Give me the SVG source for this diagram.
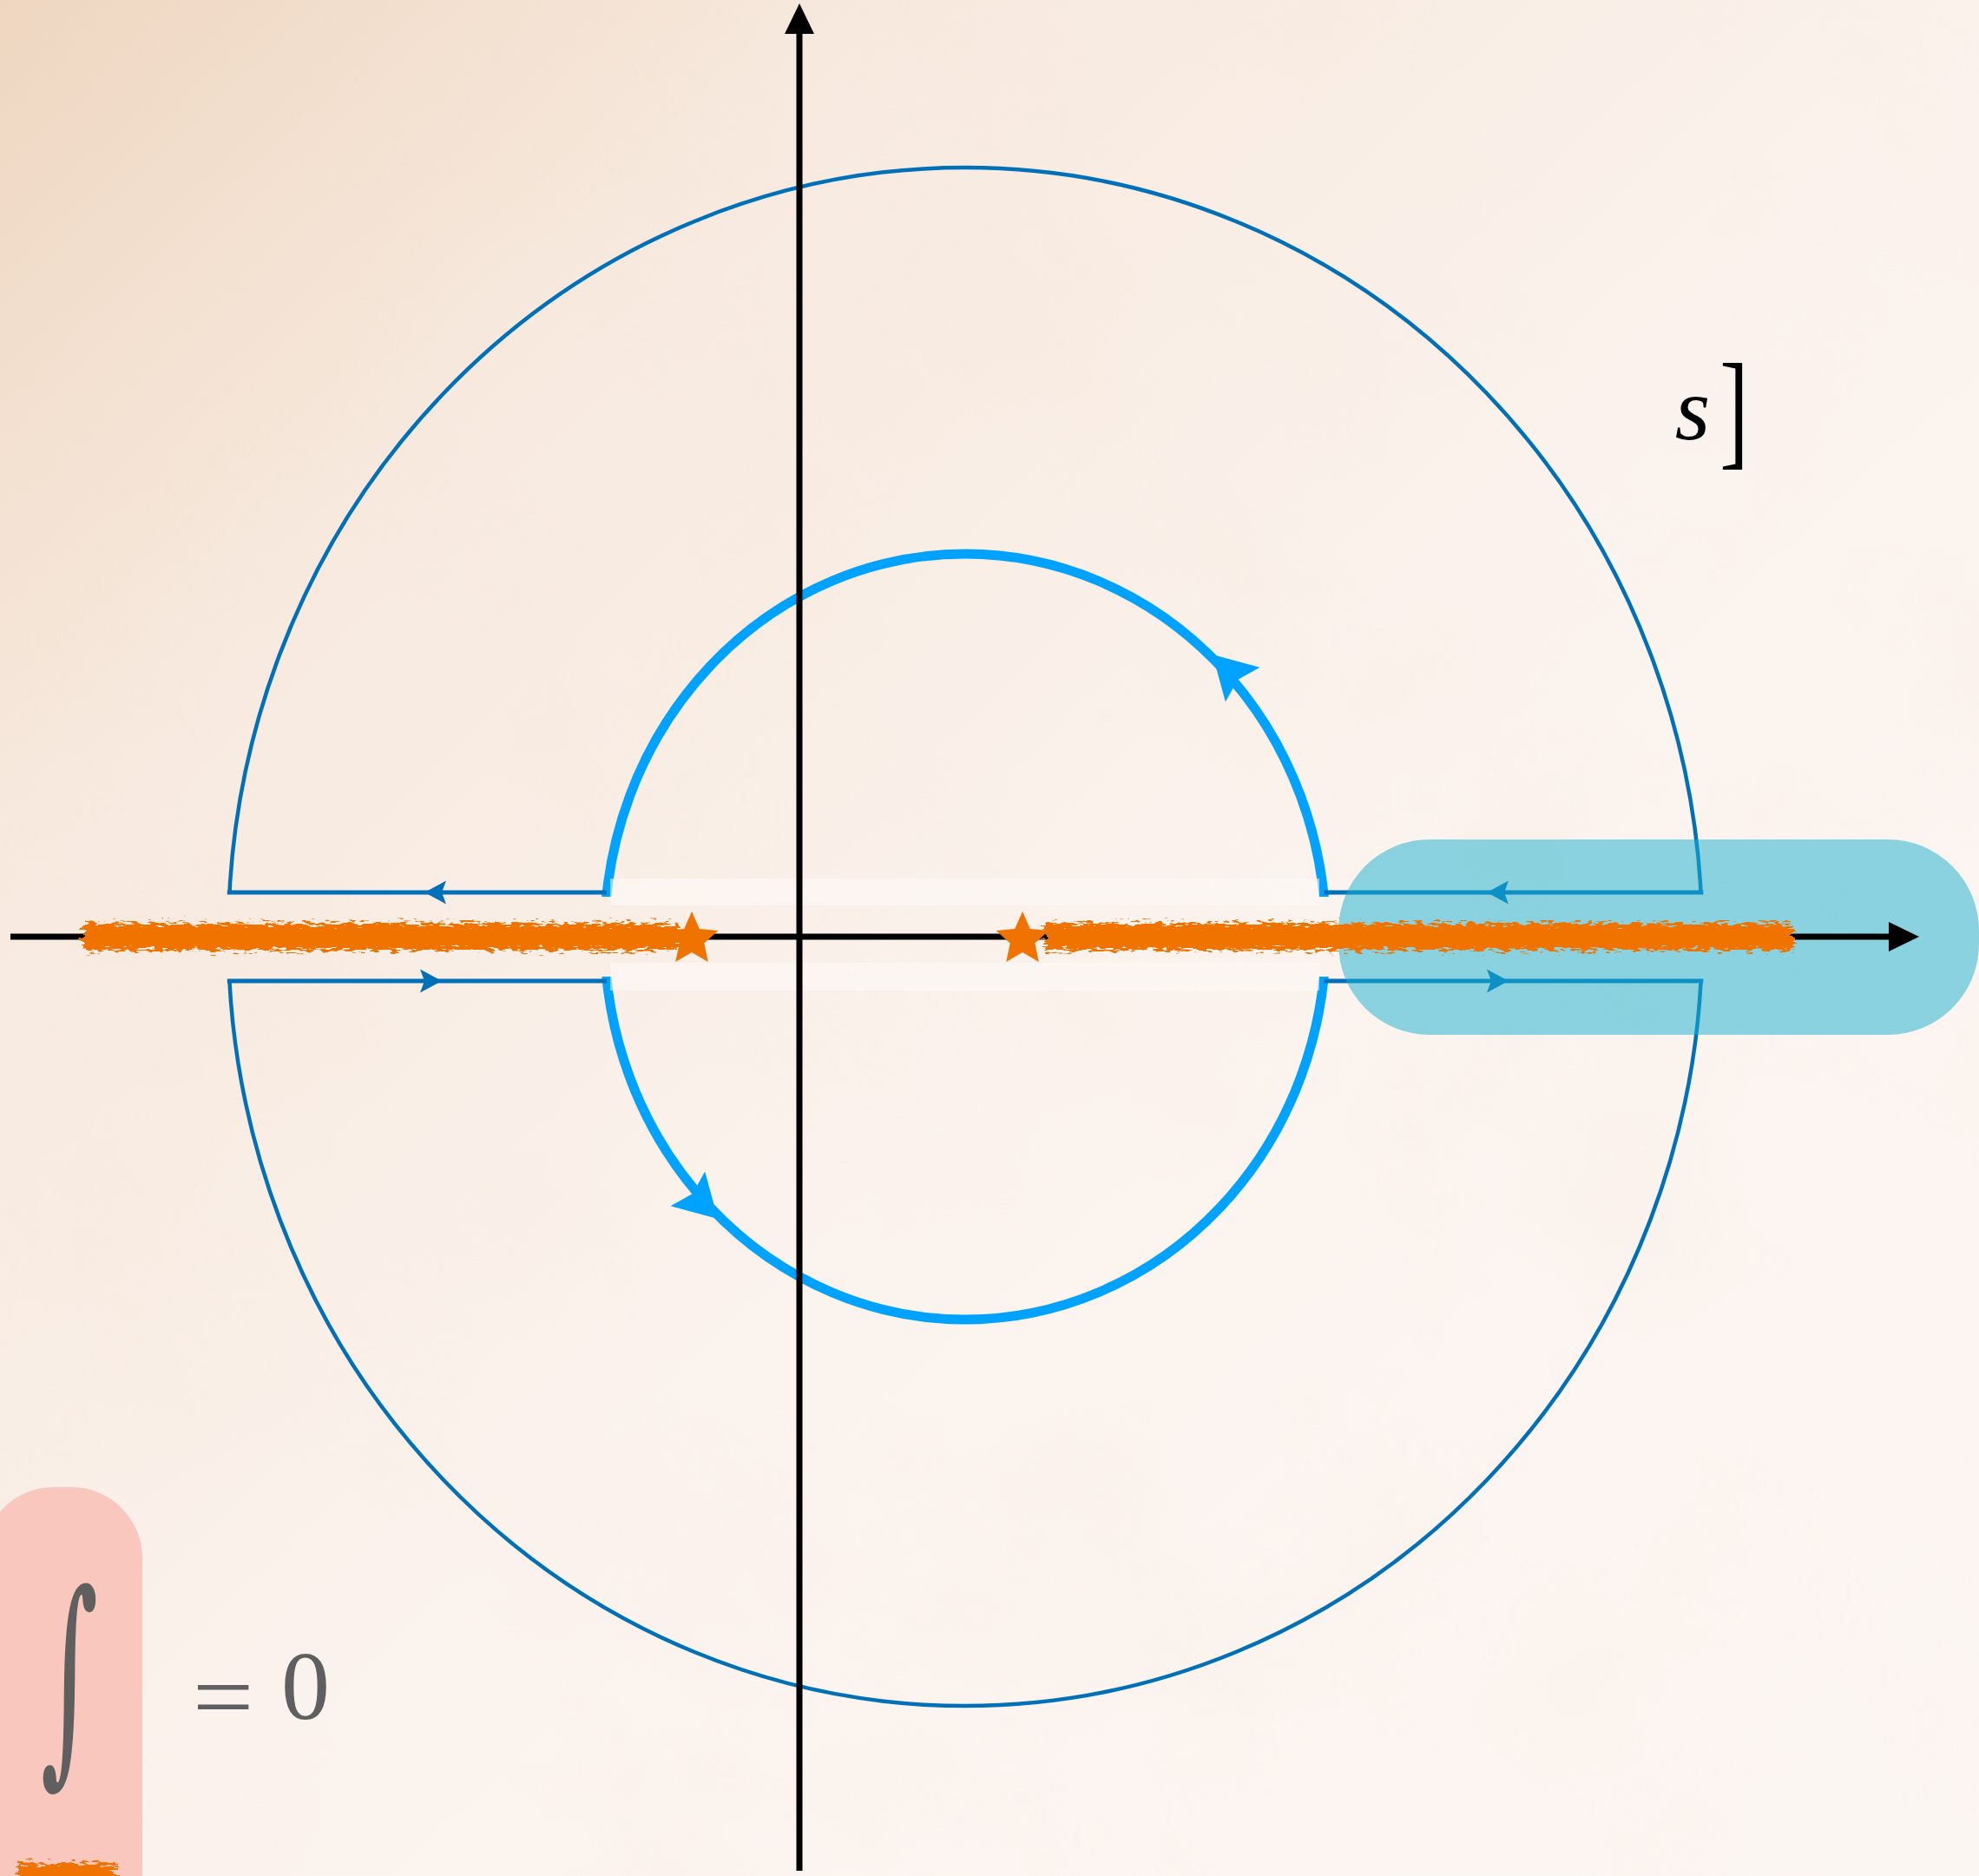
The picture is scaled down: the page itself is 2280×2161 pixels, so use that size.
<svg xmlns="http://www.w3.org/2000/svg" xmlns:xlink="http://www.w3.org/1999/xlink" width="2280" height="2161" viewBox="0 0 2280 2161">
<defs>
<style>
.outer{fill:none;stroke:#0070b8;stroke-width:4.5}
.cut{fill:none;stroke:#0070b8;stroke-width:5}
.inner{fill:none;stroke:#00a2ff;stroke-width:11}
.axis{fill:none;stroke:#000;stroke-width:7}
.band{fill:none;stroke:#f07300;stroke-width:31}
.star{fill:#f07300}
.mask{fill:#fdfaf7;opacity:0.55}
.math{font-family:"Liberation Serif","Times New Roman",serif;fill:#5f5f5f}
</style>
<linearGradient id="bg" x1="0" y1="0" x2="1" y2="1">
<stop offset="0" stop-color="#eed6c0"/>
<stop offset="0.22" stop-color="#f7e9de"/>
<stop offset="0.55" stop-color="#fbf3ee"/>
<stop offset="1" stop-color="#fcf6f3"/>
</linearGradient>
<filter id="paper" filterUnits="userSpaceOnUse" x="0" y="0" width="2280" height="2161">
<feTurbulence type="fractalNoise" baseFrequency="0.003" numOctaves="4" seed="7"/>
<feColorMatrix type="matrix" values="0 0 0 0 0.88  0 0 0 0 0.74  0 0 0 0 0.6  1.3 0 0 0 -0.6"/>
</filter>
<filter id="rough" filterUnits="userSpaceOnUse" x="0" y="1000" width="2280" height="1161">
<feTurbulence type="fractalNoise" baseFrequency="0.1 0.35" numOctaves="2" seed="3" result="n"/>
<feDisplacementMap in="SourceGraphic" in2="n" scale="20" xChannelSelector="R" yChannelSelector="G"/>
</filter>
<clipPath id="clipInner"><rect x="0" y="0" width="2280" height="1033"/><rect x="0" y="1125" width="2280" height="1036"/></clipPath>
<clipPath id="clipOuter"><rect x="0" y="0" width="2280" height="1028"/><rect x="0" y="1130" width="2280" height="1031"/></clipPath>
<path id="ah" d="M0,0 L-25,-13.5 L-20,0 L-25,13.5 Z" fill="#0070b8"/>
<path id="ahb" d="M0,0 L-49,-28 L-41,0 L-49,28 Z" fill="#00a2ff"/>
<path id="ahk" d="M0,0 L-35,-17 L-35,17 Z" fill="#000"/>
<path id="star" d="M0,-32 L8.8,-12.1 L30.4,-9.9 L14.3,4.6 L18.8,25.9 L0,15 L-18.8,25.9 L-14.3,4.6 L-30.4,-9.9 L-8.8,-12.1 Z"/>
</defs>

<g id="background">
<rect x="0" y="0" width="2280" height="2161" fill="url(#bg)"/>
<rect x="0" y="0" width="2280" height="2161" filter="url(#paper)" opacity="0.22"/>
</g>

<g id="pink-highlight">
<rect x="-20" y="1713" width="184" height="600" rx="82" ry="82" fill="#f8c3ba" opacity="0.92"/>
</g>

<g id="contour">
<ellipse class="outer" clip-path="url(#clipOuter)" cx="1112" cy="1079" rx="849" ry="886"/>
<ellipse class="inner" clip-path="url(#clipInner)" cx="1112" cy="1079" rx="415.5" ry="441"/>
<path class="cut" d="M261.8,1028 H699 M261.8,1130 H699 M1525,1028 H1962.3 M1525,1130 H1962.3"/>
<use xlink:href="#ah" transform="translate(489,1028) rotate(180)"/>
<use xlink:href="#ah" transform="translate(509,1130)"/>
<use xlink:href="#ah" transform="translate(1713,1028) rotate(180)"/>
<use xlink:href="#ah" transform="translate(1738,1130)"/>
<use xlink:href="#ahb" transform="translate(1397,754) rotate(225)"/>
<use xlink:href="#ahb" transform="translate(827,1404) rotate(45)"/>
</g>

<g id="blue-highlight">
<rect x="1542" y="967" width="738" height="225" rx="105" ry="105" fill="#1aafd0" opacity="0.5"/>
</g>

<g id="gap-masks">
<rect class="mask" x="703" y="1012" width="817" height="31"/>
<rect class="mask" x="703" y="1109" width="817" height="32"/>
</g>

<g id="axes">
<line class="axis" x1="12" y1="1079" x2="2180" y2="1079"/>
<use xlink:href="#ahk" transform="translate(2211,1079)"/>
<line class="axis" x1="921" y1="2155" x2="921" y2="36"/>
<use xlink:href="#ahk" transform="translate(921,4) rotate(-90)"/>
</g>

<g id="branch-cuts" filter="url(#rough)">
<line class="band" x1="95" y1="1079" x2="782" y2="1079"/>
<line class="band" x1="1204" y1="1079" x2="2066" y2="1079"/>
<line class="band" x1="20" y1="2162" x2="132" y2="2162"/>
</g>
<g id="stars">
<use xlink:href="#star" class="star" transform="translate(797,1082)"/>
<use xlink:href="#star" class="star" transform="translate(1178,1082)"/>
</g>

<g id="label-s">
<text x="1950" y="506" text-anchor="middle" font-family="'Liberation Serif', serif" font-style="italic" font-size="104" fill="#000">s</text>
<text transform="translate(1998,521) scale(1,1.48)" x="0" y="0" text-anchor="middle" font-family="'Liberation Serif', serif" font-size="100" fill="#000">]</text>
</g>

<g id="label-integral">
<text class="math" x="0" y="0" transform="translate(80,2020) scale(0.58,1.18)" text-anchor="middle" font-size="220" style="font-family:'DejaVu Serif',serif">∫</text>
<text class="math" x="0" y="0" transform="translate(257,1992) scale(1.12,1)" text-anchor="middle" font-size="112">=</text>
<text class="math" x="352" y="1980" text-anchor="middle" font-size="112">0</text>
</g>
</svg>
